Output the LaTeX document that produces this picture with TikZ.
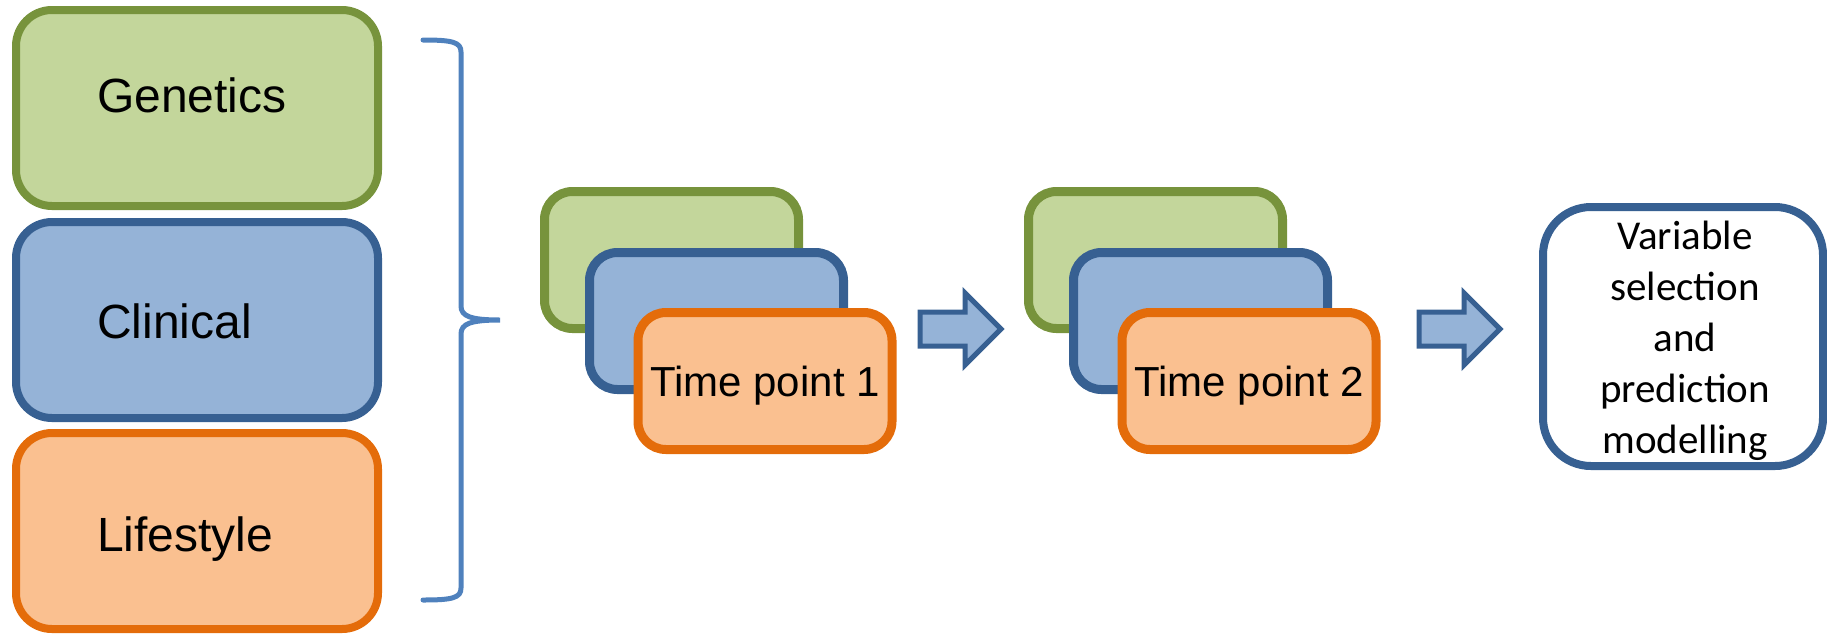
\documentclass[tikz,border=0pt]{standalone}
\usepackage{fontspec}
\setmainfont{Liberation Sans}
\newfontfamily\calib{Carlito}
\definecolor{gfill}{HTML}{C3D69B}
\definecolor{gline}{HTML}{77933C}
\definecolor{bfill}{HTML}{95B3D7}
\definecolor{bline}{HTML}{376092}
\definecolor{ofill}{HTML}{FAC090}
\definecolor{oline}{HTML}{E46C0A}
\definecolor{bracec}{HTML}{4F81BD}
\begin{document}
\begin{tikzpicture}[x=1pt,y=-1pt,
  bigbox/.style={rectangle, rounded corners=36pt, line width=8pt, inner sep=0pt,
    minimum width=362pt, minimum height=196pt},
  tpbox/.style={rectangle, rounded corners=28pt, line width=9pt, inner sep=0pt,
    minimum width=254pt, minimum height=137pt},
  gbox/.style={fill=gfill, draw=gline},
  bbox/.style={fill=bfill, draw=bline},
  obox/.style={fill=ofill, draw=oline},
  lbl/.style={font=\fontsize{48}{56}\selectfont, inner sep=0pt},
  tplbl/.style={font=\fontsize{42}{50}\selectfont, text height=31pt, text depth=0pt},
  blockarrow/.style={fill=bfill, draw=bline, line width=5pt, line join=miter},
  bracestyle/.style={draw=bracec, line width=5pt, line cap=round}
]
\useasboundingbox (0,0) rectangle (1827,633);

% left category boxes
\node[bigbox, gbox] (gen) at (197,108) {};
\node[bigbox, bbox] (cli) at (197,320) {};
\node[bigbox, obox] (life) at (197,531) {};
\node[lbl, anchor=base west] (gent) at (97,112) {Genetics};
\node[lbl, anchor=base west] (clit) at (97,338) {Clinical};
\node[lbl, anchor=base west] (lifet) at (97,551) {Lifestyle};

% brace
\draw[bracestyle] (423,40) .. controls (452,40) and (461,42) .. (461,52)
  -- (461,306) .. controls (461,316) and (470,320) .. (500,320)
  .. controls (470,320) and (461,324) .. (461,334)
  -- (461,588) .. controls (461,598) and (452,600) .. (423,600);

% time point 1
\node[tpbox, gbox] (g1) at (671.5,260) {};
\node[tpbox, bbox] (b1) at (716.5,321) {};
\node[tpbox, obox, tplbl] (o1) at (765,381) {Time point 1};

% time point 2
\node[tpbox, gbox] (g2) at (1155.5,260) {};
\node[tpbox, bbox] (b2) at (1200.5,321) {};
\node[tpbox, obox, tplbl] (o2) at (1249,381) {Time point 2};

% block arrows
\draw[blockarrow] (920,312) -- (965,312) -- (965,293) -- (1001,329)
  -- (965,365) -- (965,346) -- (920,346) -- cycle;
\draw[blockarrow] (1419,312) -- (1464,312) -- (1464,293) -- (1500,329)
  -- (1464,365) -- (1464,346) -- (1419,346) -- cycle;

% final box
\node[rectangle, rounded corners=48pt, line width=8pt, draw=bline, fill=white,
  minimum width=280pt, minimum height=259pt] (fin) at (1683,336.5) {};
\node[font=\calib\fontsize{41}{51}\selectfont, align=center, inner sep=0pt,
  anchor=base] (fint) at (1685,453)
  {Variable\\selection\\and\\prediction\\modelling};
\end{tikzpicture}
\end{document}
